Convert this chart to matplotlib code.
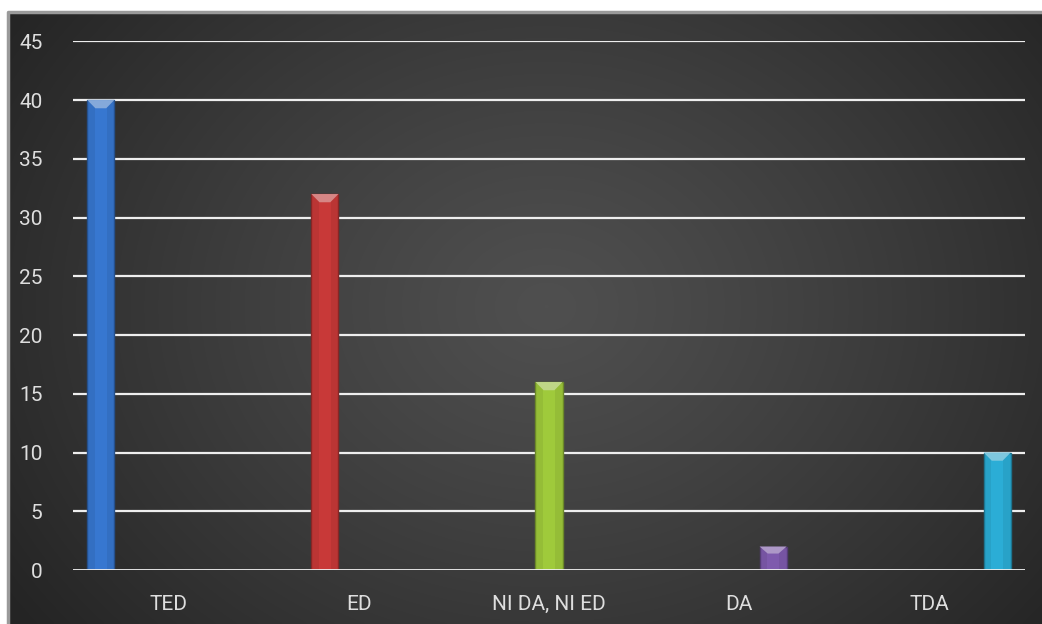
import matplotlib
matplotlib.use("Agg")
import matplotlib.pyplot as plt
import numpy as np
from matplotlib.colors import to_rgb

categories = ["TED", "ED", "NI DA, NI ED", "DA", "TDA"]
values = [40, 32, 16, 2, 10]
colors = ["#336fc2", "#bb3534", "#95bd37", "#7654a2", "#28a2c8"]
yticks = [0, 5, 10, 15, 20, 25, 30, 35, 40, 45]

plt.rcParams['font.family'] = ['Roboto', 'DejaVu Sans']

W, H = 1042, 624
fig = plt.figure(figsize=(W / 100, H / 100), dpi=100)
fig.patch.set_facecolor("white")

# background panel with radial gradient
bg = fig.add_axes([8 / W, 0, (W - 8) / W, (H - 12) / H])
bg.set_axis_off()
ny, nx = 300, 520
yy, xx = np.mgrid[0:ny, 0:nx]
cx, cy = nx * 0.52, ny * 0.48
r = np.sqrt(((xx - cx) / (nx * 0.62)) ** 2 + ((yy - cy) / (ny * 0.85)) ** 2)
r = np.clip(r, 0, 1)
light, dark = 0.31, 0.145
val = light - (light - dark) * r ** 1.2
img = np.dstack([val, val, val])
bg.imshow(img, aspect="auto", extent=[0, 1, 0, 1], interpolation="bilinear")
bg.set_xlim(0, 1)
bg.set_ylim(0, 1)
bg.plot([0, 0, 1], [0, 1, 1], color="#9a9a9a", lw=2.5, clip_on=False)

ax = fig.add_axes([73 / W, 54 / H, (1025 - 73) / W, (570 - 41.3) / H])
ax.patch.set_alpha(0)
n = len(categories)
step = 0.177
width = 0.142
x = np.arange(n)
for j, (v, c) in enumerate(zip(values, colors)):
    pos = x[j] + (j - (n - 1) / 2) * step
    rgb = np.array(to_rgb(c))
    edge = tuple(rgb * 0.72)
    ax.bar(pos, v, width=width, color=c, edgecolor=edge, linewidth=1.0, zorder=3)
    # light inner stripe
    ax.bar(pos, v, width=width * 0.45, color=tuple(np.clip(rgb * 1.07, 0, 1)), linewidth=0, zorder=3.1)
    # bevel highlight at top
    hl = tuple(np.clip(rgb + (1 - rgb) * 0.4, 0, 1))
    cap = min(0.7, v * 0.3)
    ax.fill([pos - width / 2, pos + width / 2, pos + width * 0.2, pos - width * 0.2],
            [v, v, v - cap, v - cap], color=hl, lw=0, zorder=3.2)

ax.set_xlim(-0.5, n - 0.5)
ax.set_ylim(0, 45)
ax.set_yticks(yticks)
ax.set_xticks(x)
ax.set_xticklabels(categories)
for yv in yticks[1:]:
    ax.axhline(yv, color="#eeeeee", lw=1.6, zorder=2)
ax.axhline(0, color="#f2f2f2", lw=2.0, zorder=4)
for s in ax.spines.values():
    s.set_visible(False)
ax.tick_params(axis="y", length=0, pad=22, labelsize=15, labelcolor="#dedede")
ax.tick_params(axis="x", length=0, pad=18, labelsize=15, labelcolor="#dedede")

fig.savefig("out.png", dpi=100, facecolor=fig.get_facecolor())
